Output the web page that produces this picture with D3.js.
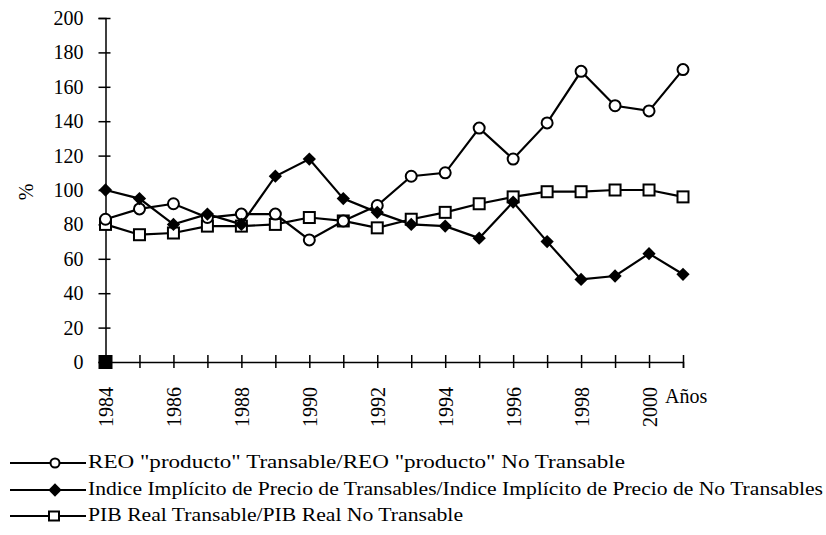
<!DOCTYPE html>
<html>
<head>
<meta charset="utf-8">
<script src="https://cdn.jsdelivr.net/npm/d3@7"></script>
<style>
  body { margin: 0; background: #fff; }
  svg text { font-family: "Liberation Serif", "Times New Roman", serif; fill: #000; }
</style>
</head>
<body>
<div class="chart"></div>
<script>
// años 1984 - 2001
var anios = d3.range(1984, 2002);

// REO "producto" Transable / REO "producto" No Transable
var reo = [83, 89, 92, 84, 86, 86, 71, 82, 91, 108, 110, 136, 118, 139, 169, 149, 146, 170];
// Indice Implicito de Precio de Transables / No Transables
var indice = [100, 95, 80, 86, 80, 108, 118, 95, 87, 80, 79, 72, 93, 70, 48, 50, 63, 51];
// PIB Real Transable / PIB Real No Transable
var pib = [80, 74, 75, 79, 79, 80, 84, 82, 78, 83, 87, 92, 96, 99, 99, 100, 100, 96];
// marca en el origen
var origen = [{ anio: 1984, valor: 0 }];

var yTicks = [0, 20, 40, 60, 80, 100, 120, 140, 160, 180, 200];

var leyenda = [
  "REO  \"producto\" Transable/REO  \"producto\" No Transable",
  "Indice Implícito de Precio de Transables/Indice Implícito de Precio de No Transables",
  "PIB Real Transable/PIB Real No Transable"
];
var leyendaAncho = [537, 735, 375];

var svg = d3.select(".chart").append("svg")
  .attr("width", 826)
  .attr("height", 535);

var x = d3.scaleLinear().domain([1984, 2001]).range([105.5, 683]);
var y = d3.scaleLinear().domain([0, 200]).range([362, 18]);

// eje Y
var yAxis = svg.append("g")
  .attr("transform", "translate(105.5,0)")
  .call(d3.axisLeft(y).tickValues(yTicks).tickSize(7).tickPadding(15));
yAxis.select(".domain").attr("stroke", "#000").attr("stroke-width", 1.5);
yAxis.selectAll(".tick line").attr("x1", 5).attr("stroke-width", 1.5);
yAxis.selectAll(".tick text")
  .style("font-size", "20px")
  .style("font-family", "Liberation Serif");

// eje X
var xAxis = svg.append("g")
  .attr("transform", "translate(0,362)")
  .call(d3.axisBottom(x).tickValues(anios).tickSize(6)
    .tickFormat(function(d){ return d % 2 === 0 && d <= 2000 ? d : ""; }));
xAxis.select(".domain").attr("stroke", "#000").attr("stroke-width", 1.5);
xAxis.selectAll(".tick line").attr("y1", -7).attr("stroke-width", 1.5);
xAxis.selectAll(".tick text")
  .style("font-size", "20px")
  .style("font-family", "Liberation Serif")
  .attr("text-anchor", "end")
  .attr("dy", null)
  .attr("transform", "translate(7,25) rotate(-90)")
  .attr("x", 0)
  .attr("y", 0);

svg.append("text")
  .attr("x", 665)
  .attr("y", 403)
  .style("font-size", "20px")
  .text("Años");

svg.append("text")
  .attr("transform", "translate(33,192) rotate(-90)")
  .attr("text-anchor", "middle")
  .style("font-size", "20px")
  .text("%");

// lineas
var linea = function(vals){
  return d3.line()
    .x(function(d, i){ return x(anios[i]); })
    .y(function(d){ return y(d); })(vals);
};

[pib, indice, reo].forEach(function(vals){
  svg.append("path")
    .attr("d", linea(vals))
    .attr("fill", "none")
    .attr("stroke", "#000")
    .attr("stroke-width", 2.2);
});

// marcadores
svg.selectAll(".sq").data(pib).enter().append("rect")
  .attr("x", function(d, i){ return x(anios[i]) - 5.5; })
  .attr("y", function(d){ return y(d) - 5.5; })
  .attr("width", 11).attr("height", 11)
  .attr("fill", "#fff").attr("stroke", "#000").attr("stroke-width", 2);

svg.selectAll(".ci").data(reo).enter().append("circle")
  .attr("cx", function(d, i){ return x(anios[i]); })
  .attr("cy", function(d){ return y(d); })
  .attr("r", 5.5)
  .attr("fill", "#fff").attr("stroke", "#000").attr("stroke-width", 2);

var diamante = d3.symbol().type(d3.symbolSquare).size(88);
svg.selectAll(".di").data(indice).enter().append("path")
  .attr("transform", function(d, i){ return "translate(" + x(anios[i]) + "," + y(d) + ") rotate(45)"; })
  .attr("d", diamante)
  .attr("fill", "#000");

svg.selectAll(".org").data(origen).enter().append("rect")
  .attr("x", function(d){ return x(d.anio) - 7; })
  .attr("y", function(d){ return y(d.valor) - 7; })
  .attr("width", 14).attr("height", 14)
  .attr("fill", "#000");

// leyenda
var ly = [463, 490, 516];
leyenda.forEach(function(t, i){
  var g = svg.append("g").attr("transform", "translate(0," + ly[i] + ")");
  g.append("line")
    .attr("x1", 10).attr("x2", 86)
    .attr("stroke", "#000").attr("stroke-width", 2);
  if (i === 0) {
    g.append("circle").attr("cx", 55).attr("r", 4.5)
      .attr("fill", "#fff").attr("stroke", "#000").attr("stroke-width", 2);
  } else if (i === 1) {
    g.append("path").attr("transform", "translate(55,0) rotate(45)")
      .attr("d", diamante).attr("fill", "#000");
  } else {
    g.append("rect").attr("x", 49).attr("y", -4.5).attr("width", 10).attr("height", 9)
      .attr("fill", "#fff").attr("stroke", "#000").attr("stroke-width", 2);
  }
  g.append("text")
    .attr("x", 88)
    .attr("y", 5)
    .attr("textLength", leyendaAncho[i])
    .attr("lengthAdjust", "spacingAndGlyphs")
    .style("font-size", "19px")
    .text(t);
});
</script>
</body>
</html>
